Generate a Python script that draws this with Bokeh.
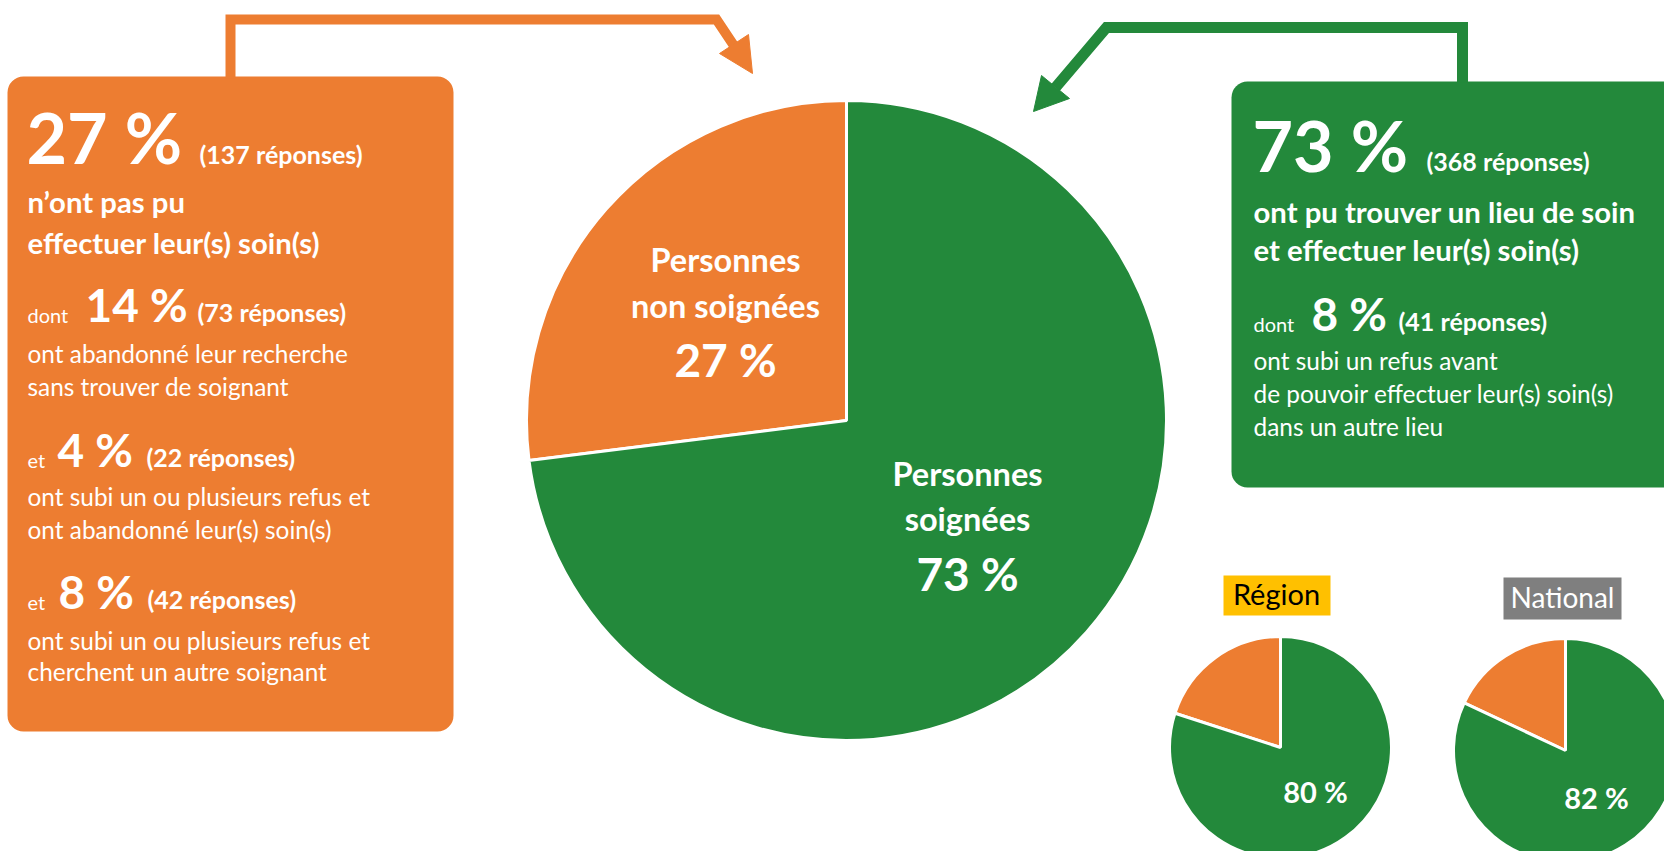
import math
from bokeh.plotting import figure
from bokeh.models import ColumnDataSource, BoxAnnotation, Range1d
from bokeh.core.properties import value
from bokeh.embed import file_html
from bokeh.resources import INLINE

# ---------------- data ----------------
categories = ["Personnes non soignées", "Personnes soignées"]
main_pct = [27, 73]
main_responses = [137, 368]

non_soignes_detail_pct = [14, 4, 8]
non_soignes_detail_resp = [73, 22, 42]
non_soignes_detail_prefix = ["dont", "et", "et"]
non_soignes_detail_lines = [
    ["ont abandonné leur recherche", "sans trouver de soignant"],
    ["ont subi un ou plusieurs refus et", "ont abandonné leur(s) soin(s)"],
    ["ont subi un ou plusieurs refus et", "cherchent un autre soignant"],
]
non_soignes_title = ["n’ont pas pu", "effectuer leur(s) soin(s)"]

soignes_detail_pct = [8]
soignes_detail_resp = [41]
soignes_detail_lines = ["ont subi un refus avant",
                        "de pouvoir effectuer leur(s) soin(s)",
                        "dans un autre lieu"]
soignes_title = ["ont pu trouver un lieu de soin", "et effectuer leur(s) soin(s)"]

comparison_labels = ["Région", "National"]
comparison_non_soignes = [20, 18]
comparison_soignes = [80, 82]

# ---------------- style ----------------
ORANGE = "#ED7D31"
GREEN = "#23893B"
YELLOW = "#FFC000"
GREY = "#7F7F7F"
FONT = "Lato"
BASE_FIX = 0.37  # baseline correction (fraction of font size)

W, H = 1664, 851


def Y(r):
    return H - r


p = figure(width=W, height=H, output_backend="svg", toolbar_location=None,
           x_range=Range1d(0, W), y_range=Range1d(0, H),
           x_axis_location=None, y_axis_location=None, min_border=0,
           outline_line_color=None, background_fill_color="white")
p.grid.visible = False

# ---------------- boxes ----------------
p.add_layout(BoxAnnotation(left=7, right=453, top=Y(76), bottom=Y(731),
                           fill_color=ORANGE, fill_alpha=1, line_color=None,
                           border_radius=16, level="underlay"))
p.add_layout(BoxAnnotation(left=1231, right=1720, top=Y(81), bottom=Y(487),
                           fill_color=GREEN, fill_alpha=1, line_color=None,
                           border_radius=16, level="underlay"))
p.add_layout(BoxAnnotation(left=1223, right=1330, top=Y(575), bottom=Y(615),
                           fill_color=YELLOW, fill_alpha=1, line_color=None,
                           level="underlay"))
p.add_layout(BoxAnnotation(left=1503, right=1621, top=Y(577), bottom=Y(619),
                           fill_color=GREY, fill_alpha=1, line_color=None,
                           level="underlay"))

# ---------------- connectors ----------------
p.line([230, 230, 716, 734], [Y(78), Y(19), Y(19), Y(46)], line_color=ORANGE,
       line_width=10, line_join="miter")
p.patch([752, 719, 748], [Y(73), Y(53), Y(34)], fill_color=ORANGE, line_color=ORANGE, line_width=1)

p.line([1462, 1462, 1106, 1055], [Y(82), Y(27), Y(27), Y(87)], line_color=GREEN,
       line_width=11, line_join="miter")
p.patch([1033, 1041, 1069], [Y(111), Y(75), Y(98)], fill_color=GREEN, line_color=GREEN, line_width=1)


# ---------------- pies ----------------
def pie(cx, cy, r, values, lw):
    total = float(sum(values))
    starts, ends = [], []
    a = math.pi / 2
    for v in values:
        starts.append(a)
        a += 2 * math.pi * v / total
        ends.append(a)
    src = ColumnDataSource(dict(x=[cx] * len(values), y=[Y(cy)] * len(values),
                                start=starts, end=ends,
                                color=[ORANGE, GREEN][:len(values)]))
    p.wedge("x", "y", radius=r, start_angle="start", end_angle="end", source=src,
            fill_color="color", line_color="white", line_width=lw)


pie(846, 420, 320, main_pct, 3)
pie(1280, 747, 111, [comparison_non_soignes[0], comparison_soignes[0]], 3)
pie(1565, 750, 112, [comparison_non_soignes[1], comparison_soignes[1]], 3)


# ---------------- texts ----------------
def add_text(items, size, bold, color="white", align="left"):
    src = ColumnDataSource(dict(x=[i[1] for i in items],
                                y=[Y(i[2] - BASE_FIX * size) for i in items],
                                text=[i[0] for i in items]))
    p.text("x", "y", "text", source=src, text_font=value(FONT),
           text_font_size=f"{size}px",
           text_font_style="bold" if bold else "normal",
           text_color=color, text_align=align, text_baseline="alphabetic")


big = [(f"{main_pct[0]} %", 26, 162), (f"{main_pct[1]} %", 1252, 170)]
paren = [(f"({main_responses[0]} réponses)", 199, 163),
         (f"({main_responses[1]} réponses)", 1426, 170),
         (f"({non_soignes_detail_resp[0]} réponses)", 197, 321),
         (f"({non_soignes_detail_resp[1]} réponses)", 146, 466),
         (f"({non_soignes_detail_resp[2]} réponses)", 147, 608),
         (f"({soignes_detail_resp[0]} réponses)", 1398, 330)]
boldline = [(non_soignes_title[0], 27, 212), (non_soignes_title[1], 27, 253),
            (soignes_title[0], 1253, 222), (soignes_title[1], 1253, 260)]
small = [(non_soignes_detail_prefix[0], 27, 322), (non_soignes_detail_prefix[1], 27, 467),
         (non_soignes_detail_prefix[2], 27, 609), ("dont", 1253, 331)]
mid = [(f"{non_soignes_detail_pct[0]} %", 85, 321), (f"{non_soignes_detail_pct[1]} %", 57, 466),
       (f"{non_soignes_detail_pct[2]} %", 58, 608), (f"{soignes_detail_pct[0]} %", 1311, 330)]
reg = [(non_soignes_detail_lines[0][0], 27, 362), (non_soignes_detail_lines[0][1], 27, 395),
       (non_soignes_detail_lines[1][0], 27, 505), (non_soignes_detail_lines[1][1], 27, 538),
       (non_soignes_detail_lines[2][0], 27, 649), (non_soignes_detail_lines[2][1], 27, 680),
       (soignes_detail_lines[0], 1253, 369), (soignes_detail_lines[1], 1253, 402),
       (soignes_detail_lines[2], 1253, 435)]

add_text(big, 70, True)
add_text(paren, 25, True)
add_text(boldline, 29.3, True)
add_text(small, 20, False)
add_text(mid, 46, True)
add_text(reg, 24.4, False)

# pie labels
w1 = categories[0].split(" ", 1)
w2 = categories[1].split(" ", 1)
add_text([(w1[0], 725, 271), (w1[1], 725, 317)], 32.5, True, align="center")
add_text([(w2[0], 967, 485), (w2[1], 967, 530)], 32.5, True, align="center")
add_text([(f"{main_pct[0]} %", 725, 376), (f"{main_pct[1]} %", 967, 590)], 46, True, align="center")
add_text([(f"{comparison_soignes[0]} %", 1315, 802), (f"{comparison_soignes[1]} %", 1596, 808)],
         29, True, align="center")
add_text([(comparison_labels[0], 1276, 604)], 29, False, color="black", align="center")
add_text([(comparison_labels[1], 1562, 607)], 28, False, color="white", align="center")

open("out.html", "w").write(file_html(p, INLINE))
